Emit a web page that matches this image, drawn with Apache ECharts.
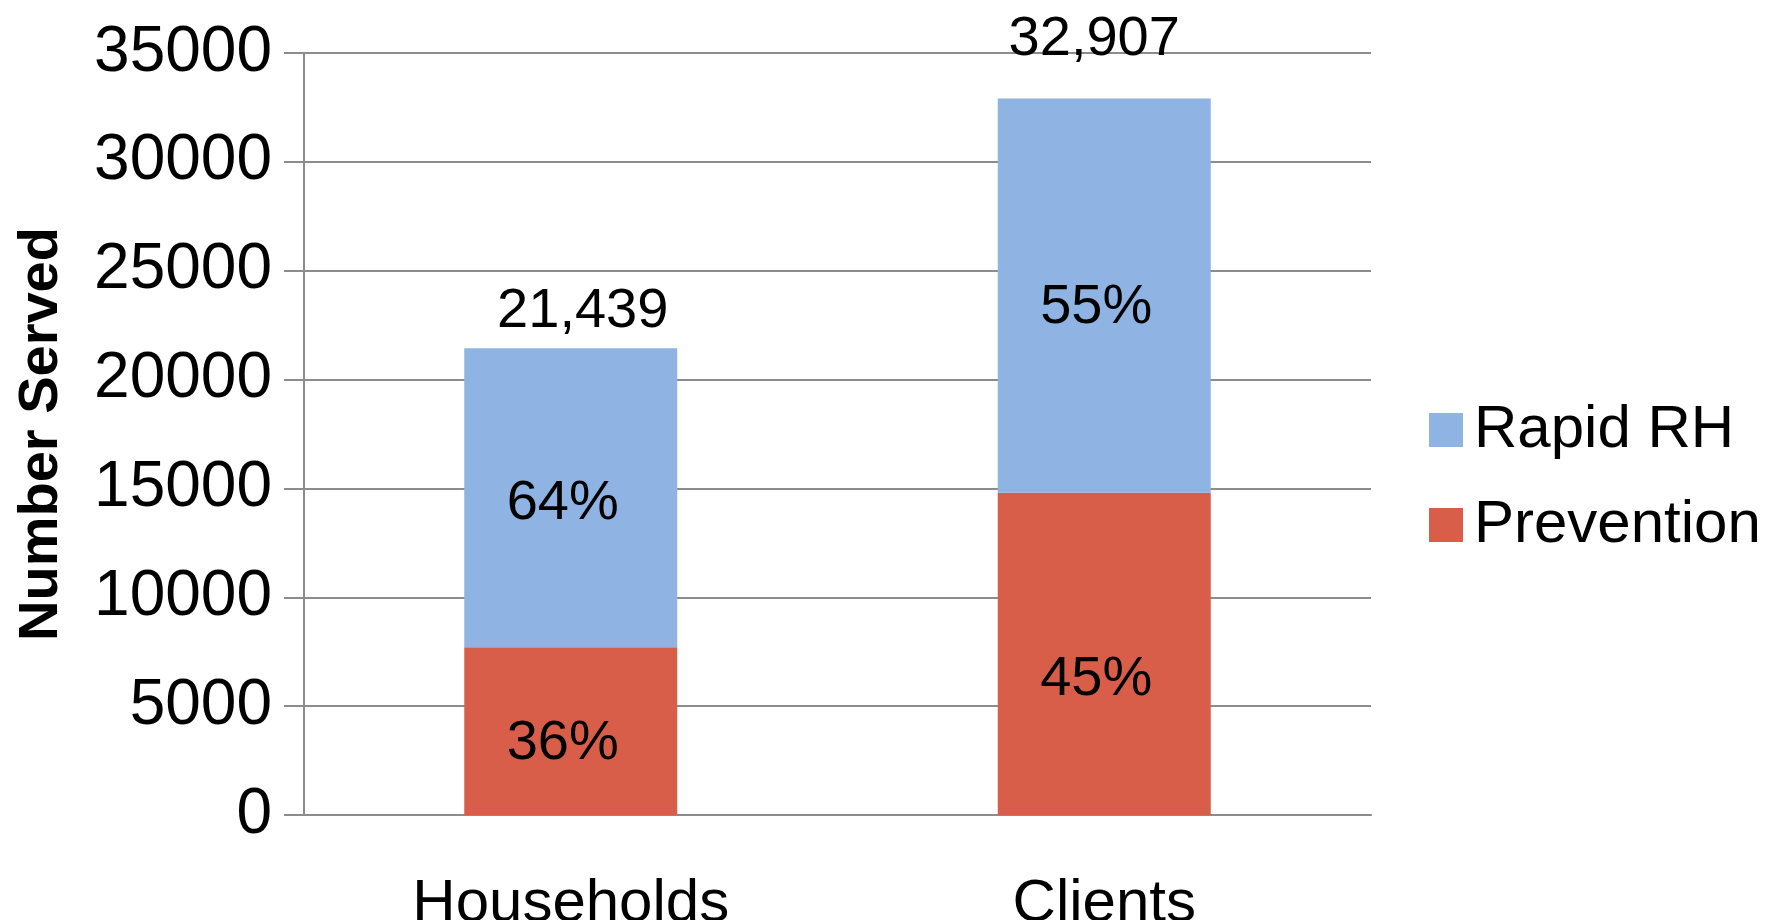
<!DOCTYPE html>
<html>
<head>
<meta charset="utf-8">
<script src="https://cdn.jsdelivr.net/npm/echarts@6/dist/echarts.min.js"></script>
<style>
    html, body { margin: 0; padding: 0; background: #fff; }
    #chart { width: 1776px; height: 920px; }
</style>
</head>
<body>
<div id="chart"></div>
<script>
// Data
const categories = ['Households', 'Clients'];
const prevention = [7700, 14800];
const rapidRH = [13739, 18107];
const totals = [21439, 32907];
const yTicks = { min: 0, max: 35000, interval: 5000 };

const FONT = 'Liberation Sans';
const gridColor = '#8c8c8c';

const chart = echarts.init(document.getElementById('chart'));

// percent of the column total, shown inside each segment
const pctLabel = (p) => Math.round(p.value / totals[p.dataIndex] * 100) + '%';

// labels were nudged by hand in the original, so they sit a little off-centre
const totalLabelOffsets = [[12, 0], [-10, -22]];
const preventionLabelOffsets = [[-8, 12], [-8, 26]];
const rapidLabelOffsets = [[-8, 6], [-8, 12]];

const withOffsets = (values, offsets) =>
    values.map((v, i) => ({ value: v, label: { offset: offsets[i] } }));

const option = {
    animation: false,
    textStyle: { fontFamily: FONT },
    grid: { left: 304, right: 405, top: 53, bottom: 105, outerBoundsMode: 'none', containLabel: false },
    legend: {
        orient: 'vertical',
        left: 1424,
        top: 395,
        data: ['Rapid RH', 'Prevention'],
        itemWidth: 34,
        itemHeight: 34,
        itemGap: 35,
        icon: 'rect',
        textStyle: { fontSize: 60, color: '#000', fontFamily: FONT, padding: [0, 0, 0, 6] }
    },
    xAxis: {
        type: 'category',
        data: categories,
        axisLine: { lineStyle: { color: gridColor, width: 2 } },
        axisTick: { length: 22, lineStyle: { color: gridColor, width: 2 } },
        axisLabel: { color: '#000', fontSize: 60, margin: 59 }
    },
    yAxis: {
        type: 'value',
        min: yTicks.min,
        max: yTicks.max,
        interval: yTicks.interval,
        name: 'Number Served',
        nameLocation: 'middle',
        nameGap: 234,
        nameTextStyle: { fontSize: 56, fontWeight: 'bold', color: '#000', fontFamily: FONT },
        axisLine: { show: true, lineStyle: { color: gridColor, width: 2 } },
        axisTick: { show: true, length: 20, lineStyle: { color: gridColor, width: 2 } },
        axisLabel: { color: '#000', fontSize: 64, margin: 32, formatter: (v) => String(v) },
        splitLine: { lineStyle: { color: gridColor, width: 2 } }
    },
    series: [
        {
            name: 'Prevention',
            type: 'bar',
            stack: 'served',
            barWidth: 213,
            data: withOffsets(prevention, preventionLabelOffsets),
            itemStyle: { color: '#D95E49' },
            label: {
                show: true, position: 'inside',
                fontSize: 56, color: '#000', formatter: pctLabel
            },
            z: 3
        },
        {
            name: 'Rapid RH',
            type: 'bar',
            stack: 'served',
            barWidth: 213,
            data: withOffsets(rapidRH, rapidLabelOffsets),
            itemStyle: { color: '#8FB3E2' },
            label: {
                show: true, position: 'inside',
                fontSize: 56, color: '#000', formatter: pctLabel
            },
            z: 3
        },
        {
            // invisible bar behind the stack, only carries the total label
            name: 'Total',
            type: 'bar',
            barWidth: 213,
            barGap: '-100%',
            data: withOffsets(totals, totalLabelOffsets),
            silent: true,
            itemStyle: { color: 'rgba(0,0,0,0)' },
            label: {
                show: true, position: 'top', distance: 9,
                fontSize: 56, color: '#000',
                formatter: (p) => p.value.toLocaleString('en-US')
            },
            z: 1
        }
    ]
};

chart.setOption(option);
</script>
</body>
</html>
